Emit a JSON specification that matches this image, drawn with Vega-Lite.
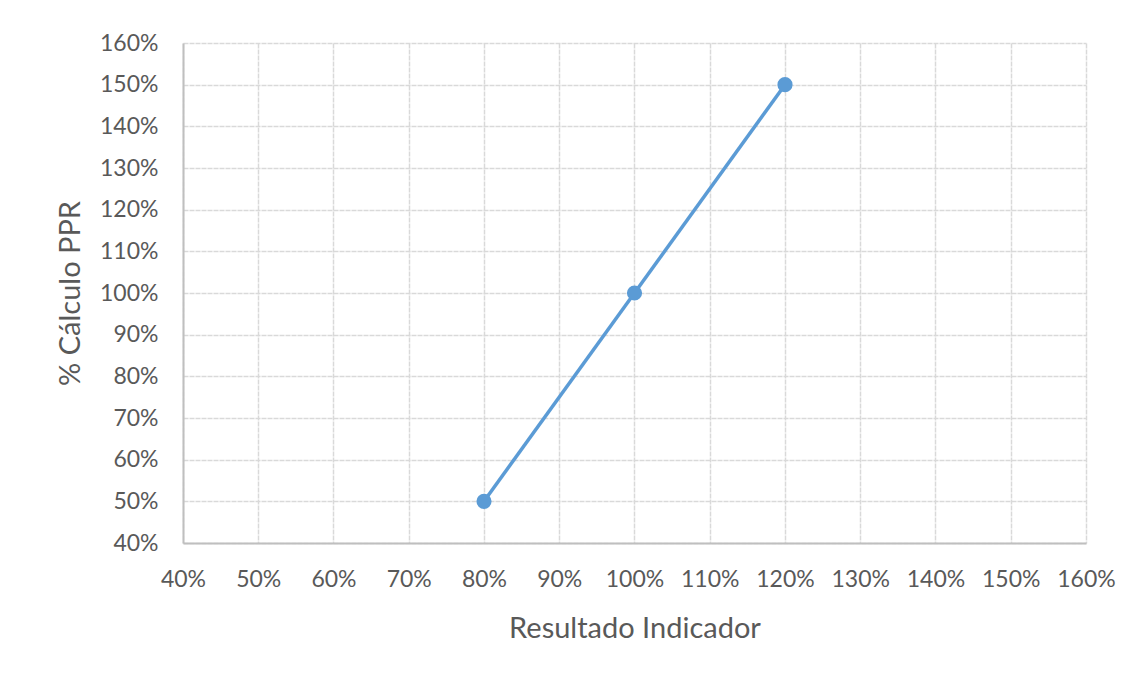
{
  "$schema": "https://vega.github.io/schema/vega-lite/v6.json",
  "autosize": "none",
  "width": 903,
  "height": 500,
  "padding": {"left": 183, "top": 43, "right": 57, "bottom": 136},
  "background": "white",
  "data": {"values": [
    {"resultado": 0.8, "ppr": 0.5},
    {"resultado": 1.0, "ppr": 1.0},
    {"resultado": 1.2, "ppr": 1.5}
  ]},
  "encoding": {
    "x": {"field": "resultado", "type": "quantitative",
      "scale": {"domain": [0.4, 1.6], "nice": false, "zero": false},
      "axis": {"title": "Resultado Indicador", "format": ".0%", "values": [0.4,0.5,0.6,0.7,0.8,0.9,1.0,1.1,1.2,1.3,1.4,1.5,1.6], "labelPadding": 25, "titlePadding": 23}},
    "y": {"field": "ppr", "type": "quantitative",
      "scale": {"domain": [0.4, 1.6], "nice": false, "zero": false},
      "axis": {"title": "% Cálculo PPR", "format": ".0%", "values": [0.4,0.5,0.6,0.7,0.8,0.9,1.0,1.1,1.2,1.3,1.4,1.5,1.6], "labelPadding": 25, "titlePadding": 14}}
  },
  "layer": [
    {"mark": {"type": "line", "color": "#5b9bd5", "strokeWidth": 3.5}},
    {"mark": {"type": "point", "filled": true, "color": "#5b9bd5", "opacity": 1, "size": 230}}
  ],
  "config": {
    "view": {"stroke": null},
    "font": "Lato",
    "axis": {
      "labelFont": "Lato", "labelFontSize": 23, "labelColor": "#595959",
      "titleFont": "Lato", "titleFontSize": 29, "titleColor": "#595959", "titleFontWeight": "normal",
      "ticks": false,
      "domainColor": "#bfbfbf", "domainWidth": 2,
      "gridColor": "#d9d9d9", "gridWidth": 1.5, "gridDash": [5, 1], "gridOpacity": 1,
      "labelFlush": false, "labelOverlap": false
    }
  }
}
